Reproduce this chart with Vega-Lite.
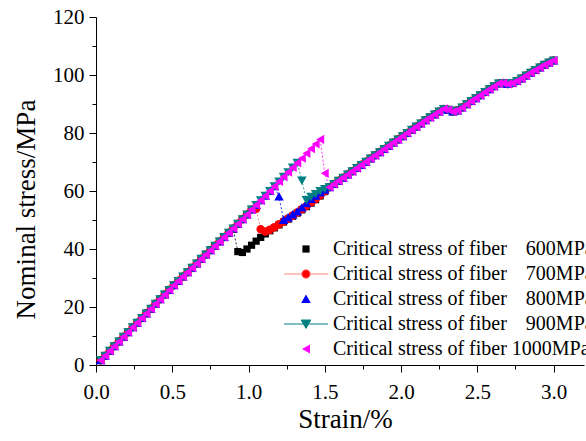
{
  "$schema": "https://vega.github.io/schema/vega-lite/v6.json",
  "width": 488,
  "height": 348,
  "autosize": {"type": "none"},
  "padding": {"left": 96, "top": 17, "right": 2, "bottom": 76},
  "background": "white",
  "config": {
    "view": {"stroke": null},
    "font": "Times New Roman, Liberation Serif, serif",
    "style": {
      "guide-label": {"font": "Times New Roman, Liberation Serif, serif", "fill": "black"},
      "guide-title": {"font": "Times New Roman, Liberation Serif, serif", "fill": "black"}
    },
    "axis": {
      "domainColor": "black", "domainWidth": 1, "tickColor": "black", "tickWidth": 1,
      "labelColor": "black", "labelFontSize": 21,
      "titleFontSize": 27, "titleFontWeight": "normal", "titleColor": "black",
      "grid": false, "labelFlush": false, "labelOverlap": false, "labelBound": false
    },
    "legend": {
      "orient": "none", "legendX": 200, "legendY": 222, "padding": 0,
      "labelFont": "Times New Roman, Liberation Serif, serif", "labelFontSize": 20, "labelColor": "black",
      "labelOffset": 17, "labelLimit": 0, "rowPadding": 5, "symbolSize": 64, "symbolStrokeWidth": 1
    }
  },
  "data": {"values": [
    {"s":600,"x":0.03,"y":1.6},{"s":600,"x":0.06,"y":3.2},{"s":600,"x":0.09,"y":4.9},{"s":600,"x":0.12,"y":6.5},{"s":600,"x":0.15,"y":8.1},{"s":600,"x":0.18,"y":9.7},{"s":600,"x":0.21,"y":11.3},{"s":600,"x":0.24,"y":13.0},{"s":600,"x":0.27,"y":14.6},{"s":600,"x":0.30,"y":16.2},{"s":600,"x":0.33,"y":17.8},{"s":600,"x":0.36,"y":19.4},{"s":600,"x":0.39,"y":21.1},{"s":600,"x":0.42,"y":22.7},{"s":600,"x":0.45,"y":24.3},{"s":600,"x":0.48,"y":25.9},{"s":600,"x":0.51,"y":27.5},{"s":600,"x":0.54,"y":29.0},{"s":600,"x":0.57,"y":30.5},{"s":600,"x":0.60,"y":32.0},{"s":600,"x":0.63,"y":33.5},{"s":600,"x":0.66,"y":35.0},{"s":600,"x":0.69,"y":36.6},{"s":600,"x":0.72,"y":38.1},{"s":600,"x":0.75,"y":39.6},{"s":600,"x":0.78,"y":41.1},{"s":600,"x":0.81,"y":42.6},{"s":600,"x":0.84,"y":44.1},{"s":600,"x":0.87,"y":45.6},
    {"s":600,"x":0.90,"y":46.8},{"s":600,"x":0.93,"y":39.1},{"s":600,"x":0.96,"y":38.8},{"s":600,"x":0.99,"y":40.0},{"s":600,"x":1.02,"y":41.3},{"s":600,"x":1.05,"y":42.7},{"s":600,"x":1.08,"y":44.0},{"s":600,"x":1.11,"y":45.2},{"s":600,"x":1.14,"y":46.3},{"s":600,"x":1.17,"y":47.3},{"s":600,"x":1.20,"y":48.3},{"s":600,"x":1.23,"y":49.3},{"s":600,"x":1.26,"y":50.3},{"s":600,"x":1.29,"y":51.3},{"s":600,"x":1.32,"y":52.4},{"s":600,"x":1.35,"y":53.5},{"s":600,"x":1.38,"y":54.6},{"s":600,"x":1.41,"y":55.8},{"s":600,"x":1.44,"y":57.0},{"s":600,"x":1.47,"y":58.3},{"s":600,"x":1.50,"y":59.8},{"s":600,"x":1.53,"y":61.3},
    {"s":600,"x":1.56,"y":62.4},{"s":600,"x":1.59,"y":63.5},{"s":600,"x":1.62,"y":64.6},{"s":600,"x":1.65,"y":65.7},{"s":600,"x":1.68,"y":66.8},{"s":600,"x":1.71,"y":67.9},{"s":600,"x":1.74,"y":69.0},{"s":600,"x":1.77,"y":70.1},{"s":600,"x":1.80,"y":71.2},{"s":600,"x":1.83,"y":72.3},{"s":600,"x":1.86,"y":73.4},{"s":600,"x":1.89,"y":74.5},{"s":600,"x":1.92,"y":75.6},{"s":600,"x":1.95,"y":76.7},{"s":600,"x":1.98,"y":77.8},{"s":600,"x":2.01,"y":78.9},{"s":600,"x":2.04,"y":80.0},{"s":600,"x":2.07,"y":81.1},{"s":600,"x":2.10,"y":82.2},{"s":600,"x":2.13,"y":83.3},{"s":600,"x":2.16,"y":84.4},{"s":600,"x":2.19,"y":85.4},{"s":600,"x":2.22,"y":86.4},{"s":600,"x":2.25,"y":87.4},{"s":600,"x":2.28,"y":88.3},{"s":600,"x":2.31,"y":88.0},{"s":600,"x":2.34,"y":87.4},{"s":600,"x":2.37,"y":87.8},{"s":600,"x":2.40,"y":88.8},{"s":600,"x":2.43,"y":89.9},{"s":600,"x":2.46,"y":91.0},{"s":600,"x":2.49,"y":92.0},{"s":600,"x":2.52,"y":93.0},{"s":600,"x":2.55,"y":94.1},{"s":600,"x":2.58,"y":95.1},{"s":600,"x":2.61,"y":96.1},{"s":600,"x":2.64,"y":97.1},{"s":600,"x":2.67,"y":97.2},{"s":600,"x":2.70,"y":96.9},{"s":600,"x":2.73,"y":97.2},{"s":600,"x":2.76,"y":97.9},{"s":600,"x":2.79,"y":98.8},{"s":600,"x":2.82,"y":99.8},{"s":600,"x":2.85,"y":100.8},{"s":600,"x":2.88,"y":101.7},{"s":600,"x":2.91,"y":102.6},{"s":600,"x":2.94,"y":103.5},{"s":600,"x":2.97,"y":104.3},{"s":600,"x":3.00,"y":105.0},

    {"s":700,"x":0.03,"y":1.6},{"s":700,"x":0.06,"y":3.2},{"s":700,"x":0.09,"y":4.9},{"s":700,"x":0.12,"y":6.5},{"s":700,"x":0.15,"y":8.1},{"s":700,"x":0.18,"y":9.7},{"s":700,"x":0.21,"y":11.3},{"s":700,"x":0.24,"y":13.0},{"s":700,"x":0.27,"y":14.6},{"s":700,"x":0.30,"y":16.2},{"s":700,"x":0.33,"y":17.8},{"s":700,"x":0.36,"y":19.4},{"s":700,"x":0.39,"y":21.1},{"s":700,"x":0.42,"y":22.7},{"s":700,"x":0.45,"y":24.3},{"s":700,"x":0.48,"y":25.9},{"s":700,"x":0.51,"y":27.5},{"s":700,"x":0.54,"y":29.0},{"s":700,"x":0.57,"y":30.5},{"s":700,"x":0.60,"y":32.0},{"s":700,"x":0.63,"y":33.5},{"s":700,"x":0.66,"y":35.0},{"s":700,"x":0.69,"y":36.6},{"s":700,"x":0.72,"y":38.1},{"s":700,"x":0.75,"y":39.6},{"s":700,"x":0.78,"y":41.1},{"s":700,"x":0.81,"y":42.6},{"s":700,"x":0.84,"y":44.1},{"s":700,"x":0.87,"y":45.6},{"s":700,"x":0.90,"y":47.1},{"s":700,"x":0.93,"y":48.7},{"s":700,"x":0.96,"y":50.3},{"s":700,"x":0.99,"y":51.9},{"s":700,"x":1.02,"y":53.6},
    {"s":700,"x":1.05,"y":53.9},{"s":700,"x":1.08,"y":46.8},{"s":700,"x":1.11,"y":46.0},{"s":700,"x":1.14,"y":46.6},{"s":700,"x":1.17,"y":47.5},{"s":700,"x":1.20,"y":48.5},{"s":700,"x":1.23,"y":49.5},{"s":700,"x":1.26,"y":50.5},{"s":700,"x":1.29,"y":51.5},{"s":700,"x":1.32,"y":52.6},{"s":700,"x":1.35,"y":53.7},{"s":700,"x":1.38,"y":54.8},{"s":700,"x":1.41,"y":56.0},{"s":700,"x":1.44,"y":57.2},{"s":700,"x":1.47,"y":58.5},{"s":700,"x":1.50,"y":59.9},{"s":700,"x":1.53,"y":61.3},
    {"s":700,"x":1.56,"y":62.4},{"s":700,"x":1.59,"y":63.5},{"s":700,"x":1.62,"y":64.6},{"s":700,"x":1.65,"y":65.7},{"s":700,"x":1.68,"y":66.8},{"s":700,"x":1.71,"y":67.9},{"s":700,"x":1.74,"y":69.0},{"s":700,"x":1.77,"y":70.1},{"s":700,"x":1.80,"y":71.2},{"s":700,"x":1.83,"y":72.3},{"s":700,"x":1.86,"y":73.4},{"s":700,"x":1.89,"y":74.5},{"s":700,"x":1.92,"y":75.6},{"s":700,"x":1.95,"y":76.7},{"s":700,"x":1.98,"y":77.8},{"s":700,"x":2.01,"y":78.9},{"s":700,"x":2.04,"y":80.0},{"s":700,"x":2.07,"y":81.1},{"s":700,"x":2.10,"y":82.2},{"s":700,"x":2.13,"y":83.3},{"s":700,"x":2.16,"y":84.4},{"s":700,"x":2.19,"y":85.4},{"s":700,"x":2.22,"y":86.4},{"s":700,"x":2.25,"y":87.4},{"s":700,"x":2.28,"y":88.3},{"s":700,"x":2.31,"y":88.0},{"s":700,"x":2.34,"y":87.4},{"s":700,"x":2.37,"y":87.8},{"s":700,"x":2.40,"y":88.8},{"s":700,"x":2.43,"y":89.9},{"s":700,"x":2.46,"y":91.0},{"s":700,"x":2.49,"y":92.0},{"s":700,"x":2.52,"y":93.0},{"s":700,"x":2.55,"y":94.1},{"s":700,"x":2.58,"y":95.1},{"s":700,"x":2.61,"y":96.1},{"s":700,"x":2.64,"y":97.1},{"s":700,"x":2.67,"y":97.2},{"s":700,"x":2.70,"y":96.9},{"s":700,"x":2.73,"y":97.2},{"s":700,"x":2.76,"y":97.9},{"s":700,"x":2.79,"y":98.8},{"s":700,"x":2.82,"y":99.8},{"s":700,"x":2.85,"y":100.8},{"s":700,"x":2.88,"y":101.7},{"s":700,"x":2.91,"y":102.6},{"s":700,"x":2.94,"y":103.5},{"s":700,"x":2.97,"y":104.3},{"s":700,"x":3.00,"y":105.0},

    {"s":800,"x":0.03,"y":1.6},{"s":800,"x":0.06,"y":3.2},{"s":800,"x":0.09,"y":4.9},{"s":800,"x":0.12,"y":6.5},{"s":800,"x":0.15,"y":8.1},{"s":800,"x":0.18,"y":9.7},{"s":800,"x":0.21,"y":11.3},{"s":800,"x":0.24,"y":13.0},{"s":800,"x":0.27,"y":14.6},{"s":800,"x":0.30,"y":16.2},{"s":800,"x":0.33,"y":17.8},{"s":800,"x":0.36,"y":19.4},{"s":800,"x":0.39,"y":21.1},{"s":800,"x":0.42,"y":22.7},{"s":800,"x":0.45,"y":24.3},{"s":800,"x":0.48,"y":25.9},{"s":800,"x":0.51,"y":27.5},{"s":800,"x":0.54,"y":29.0},{"s":800,"x":0.57,"y":30.5},{"s":800,"x":0.60,"y":32.0},{"s":800,"x":0.63,"y":33.5},{"s":800,"x":0.66,"y":35.0},{"s":800,"x":0.69,"y":36.6},{"s":800,"x":0.72,"y":38.1},{"s":800,"x":0.75,"y":39.6},{"s":800,"x":0.78,"y":41.1},{"s":800,"x":0.81,"y":42.6},{"s":800,"x":0.84,"y":44.1},{"s":800,"x":0.87,"y":45.6},{"s":800,"x":0.90,"y":47.1},{"s":800,"x":0.93,"y":48.7},{"s":800,"x":0.96,"y":50.3},{"s":800,"x":0.99,"y":51.9},{"s":800,"x":1.02,"y":53.6},{"s":800,"x":1.05,"y":55.2},{"s":800,"x":1.08,"y":56.8},{"s":800,"x":1.11,"y":58.4},{"s":800,"x":1.14,"y":60.0},{"s":800,"x":1.17,"y":61.6},
    {"s":800,"x":1.20,"y":58.1},{"s":800,"x":1.23,"y":50.0},{"s":800,"x":1.26,"y":50.9},{"s":800,"x":1.29,"y":51.9},{"s":800,"x":1.32,"y":52.9},{"s":800,"x":1.35,"y":54.3},{"s":800,"x":1.38,"y":55.8},{"s":800,"x":1.41,"y":57.2},{"s":800,"x":1.44,"y":58.4},{"s":800,"x":1.47,"y":59.5},{"s":800,"x":1.50,"y":60.4},{"s":800,"x":1.53,"y":61.3},
    {"s":800,"x":1.56,"y":62.4},{"s":800,"x":1.59,"y":63.5},{"s":800,"x":1.62,"y":64.6},{"s":800,"x":1.65,"y":65.7},{"s":800,"x":1.68,"y":66.8},{"s":800,"x":1.71,"y":67.9},{"s":800,"x":1.74,"y":69.0},{"s":800,"x":1.77,"y":70.1},{"s":800,"x":1.80,"y":71.2},{"s":800,"x":1.83,"y":72.3},{"s":800,"x":1.86,"y":73.4},{"s":800,"x":1.89,"y":74.5},{"s":800,"x":1.92,"y":75.6},{"s":800,"x":1.95,"y":76.7},{"s":800,"x":1.98,"y":77.8},{"s":800,"x":2.01,"y":78.9},{"s":800,"x":2.04,"y":80.0},{"s":800,"x":2.07,"y":81.1},{"s":800,"x":2.10,"y":82.2},{"s":800,"x":2.13,"y":83.3},{"s":800,"x":2.16,"y":84.4},{"s":800,"x":2.19,"y":85.4},{"s":800,"x":2.22,"y":86.4},{"s":800,"x":2.25,"y":87.4},{"s":800,"x":2.28,"y":88.3},{"s":800,"x":2.31,"y":88.0},{"s":800,"x":2.34,"y":87.4},{"s":800,"x":2.37,"y":87.8},{"s":800,"x":2.40,"y":88.8},{"s":800,"x":2.43,"y":89.9},{"s":800,"x":2.46,"y":91.0},{"s":800,"x":2.49,"y":92.0},{"s":800,"x":2.52,"y":93.0},{"s":800,"x":2.55,"y":94.1},{"s":800,"x":2.58,"y":95.1},{"s":800,"x":2.61,"y":96.1},{"s":800,"x":2.64,"y":97.1},{"s":800,"x":2.67,"y":97.2},{"s":800,"x":2.70,"y":96.9},{"s":800,"x":2.73,"y":97.2},{"s":800,"x":2.76,"y":97.9},{"s":800,"x":2.79,"y":98.8},{"s":800,"x":2.82,"y":99.8},{"s":800,"x":2.85,"y":100.8},{"s":800,"x":2.88,"y":101.7},{"s":800,"x":2.91,"y":102.6},{"s":800,"x":2.94,"y":103.5},{"s":800,"x":2.97,"y":104.3},{"s":800,"x":3.00,"y":105.0},

    {"s":900,"x":0.03,"y":1.6},{"s":900,"x":0.06,"y":3.2},{"s":900,"x":0.09,"y":4.9},{"s":900,"x":0.12,"y":6.5},{"s":900,"x":0.15,"y":8.1},{"s":900,"x":0.18,"y":9.7},{"s":900,"x":0.21,"y":11.3},{"s":900,"x":0.24,"y":13.0},{"s":900,"x":0.27,"y":14.6},{"s":900,"x":0.30,"y":16.2},{"s":900,"x":0.33,"y":17.8},{"s":900,"x":0.36,"y":19.4},{"s":900,"x":0.39,"y":21.1},{"s":900,"x":0.42,"y":22.7},{"s":900,"x":0.45,"y":24.3},{"s":900,"x":0.48,"y":25.9},{"s":900,"x":0.51,"y":27.5},{"s":900,"x":0.54,"y":29.0},{"s":900,"x":0.57,"y":30.5},{"s":900,"x":0.60,"y":32.0},{"s":900,"x":0.63,"y":33.5},{"s":900,"x":0.66,"y":35.0},{"s":900,"x":0.69,"y":36.6},{"s":900,"x":0.72,"y":38.1},{"s":900,"x":0.75,"y":39.6},{"s":900,"x":0.78,"y":41.1},{"s":900,"x":0.81,"y":42.6},{"s":900,"x":0.84,"y":44.1},{"s":900,"x":0.87,"y":45.6},{"s":900,"x":0.90,"y":47.1},{"s":900,"x":0.93,"y":48.7},{"s":900,"x":0.96,"y":50.3},{"s":900,"x":0.99,"y":51.9},{"s":900,"x":1.02,"y":53.6},{"s":900,"x":1.05,"y":55.2},{"s":900,"x":1.08,"y":56.8},{"s":900,"x":1.11,"y":58.4},{"s":900,"x":1.14,"y":60.0},{"s":900,"x":1.17,"y":61.6},{"s":900,"x":1.20,"y":63.3},{"s":900,"x":1.23,"y":64.9},{"s":900,"x":1.26,"y":66.5},{"s":900,"x":1.29,"y":68.1},{"s":900,"x":1.32,"y":69.7},
    {"s":900,"x":1.35,"y":63.6},{"s":900,"x":1.38,"y":56.9},{"s":900,"x":1.41,"y":58.0},{"s":900,"x":1.44,"y":59.0},{"s":900,"x":1.47,"y":60.0},{"s":900,"x":1.50,"y":60.7},{"s":900,"x":1.53,"y":61.3},
    {"s":900,"x":1.56,"y":62.4},{"s":900,"x":1.59,"y":63.5},{"s":900,"x":1.62,"y":64.6},{"s":900,"x":1.65,"y":65.7},{"s":900,"x":1.68,"y":66.8},{"s":900,"x":1.71,"y":67.9},{"s":900,"x":1.74,"y":69.0},{"s":900,"x":1.77,"y":70.1},{"s":900,"x":1.80,"y":71.2},{"s":900,"x":1.83,"y":72.3},{"s":900,"x":1.86,"y":73.4},{"s":900,"x":1.89,"y":74.5},{"s":900,"x":1.92,"y":75.6},{"s":900,"x":1.95,"y":76.7},{"s":900,"x":1.98,"y":77.8},{"s":900,"x":2.01,"y":78.9},{"s":900,"x":2.04,"y":80.0},{"s":900,"x":2.07,"y":81.1},{"s":900,"x":2.10,"y":82.2},{"s":900,"x":2.13,"y":83.3},{"s":900,"x":2.16,"y":84.4},{"s":900,"x":2.19,"y":85.4},{"s":900,"x":2.22,"y":86.4},{"s":900,"x":2.25,"y":87.4},{"s":900,"x":2.28,"y":88.3},{"s":900,"x":2.31,"y":88.0},{"s":900,"x":2.34,"y":87.4},{"s":900,"x":2.37,"y":87.8},{"s":900,"x":2.40,"y":88.8},{"s":900,"x":2.43,"y":89.9},{"s":900,"x":2.46,"y":91.0},{"s":900,"x":2.49,"y":92.0},{"s":900,"x":2.52,"y":93.0},{"s":900,"x":2.55,"y":94.1},{"s":900,"x":2.58,"y":95.1},{"s":900,"x":2.61,"y":96.1},{"s":900,"x":2.64,"y":97.1},{"s":900,"x":2.67,"y":97.2},{"s":900,"x":2.70,"y":96.9},{"s":900,"x":2.73,"y":97.2},{"s":900,"x":2.76,"y":97.9},{"s":900,"x":2.79,"y":98.8},{"s":900,"x":2.82,"y":99.8},{"s":900,"x":2.85,"y":100.8},{"s":900,"x":2.88,"y":101.7},{"s":900,"x":2.91,"y":102.6},{"s":900,"x":2.94,"y":103.5},{"s":900,"x":2.97,"y":104.3},{"s":900,"x":3.00,"y":105.0},

    {"s":1000,"x":0.03,"y":1.6},{"s":1000,"x":0.06,"y":3.2},{"s":1000,"x":0.09,"y":4.9},{"s":1000,"x":0.12,"y":6.5},{"s":1000,"x":0.15,"y":8.1},{"s":1000,"x":0.18,"y":9.7},{"s":1000,"x":0.21,"y":11.3},{"s":1000,"x":0.24,"y":13.0},{"s":1000,"x":0.27,"y":14.6},{"s":1000,"x":0.30,"y":16.2},{"s":1000,"x":0.33,"y":17.8},{"s":1000,"x":0.36,"y":19.4},{"s":1000,"x":0.39,"y":21.1},{"s":1000,"x":0.42,"y":22.7},{"s":1000,"x":0.45,"y":24.3},{"s":1000,"x":0.48,"y":25.9},{"s":1000,"x":0.51,"y":27.5},{"s":1000,"x":0.54,"y":29.0},{"s":1000,"x":0.57,"y":30.5},{"s":1000,"x":0.60,"y":32.0},{"s":1000,"x":0.63,"y":33.5},{"s":1000,"x":0.66,"y":35.0},{"s":1000,"x":0.69,"y":36.6},{"s":1000,"x":0.72,"y":38.1},{"s":1000,"x":0.75,"y":39.6},{"s":1000,"x":0.78,"y":41.1},{"s":1000,"x":0.81,"y":42.6},{"s":1000,"x":0.84,"y":44.1},{"s":1000,"x":0.87,"y":45.6},{"s":1000,"x":0.90,"y":47.1},{"s":1000,"x":0.93,"y":48.7},{"s":1000,"x":0.96,"y":50.3},{"s":1000,"x":0.99,"y":51.9},{"s":1000,"x":1.02,"y":53.6},{"s":1000,"x":1.05,"y":55.2},{"s":1000,"x":1.08,"y":56.8},{"s":1000,"x":1.11,"y":58.4},{"s":1000,"x":1.14,"y":60.0},{"s":1000,"x":1.17,"y":61.6},{"s":1000,"x":1.20,"y":63.3},{"s":1000,"x":1.23,"y":64.9},{"s":1000,"x":1.26,"y":66.5},{"s":1000,"x":1.29,"y":68.1},{"s":1000,"x":1.32,"y":69.7},{"s":1000,"x":1.35,"y":71.3},{"s":1000,"x":1.38,"y":73.0},{"s":1000,"x":1.41,"y":74.6},{"s":1000,"x":1.44,"y":76.2},{"s":1000,"x":1.47,"y":77.8},
    {"s":1000,"x":1.50,"y":66.1},{"s":1000,"x":1.53,"y":61.3},
    {"s":1000,"x":1.56,"y":62.4},{"s":1000,"x":1.59,"y":63.5},{"s":1000,"x":1.62,"y":64.6},{"s":1000,"x":1.65,"y":65.7},{"s":1000,"x":1.68,"y":66.8},{"s":1000,"x":1.71,"y":67.9},{"s":1000,"x":1.74,"y":69.0},{"s":1000,"x":1.77,"y":70.1},{"s":1000,"x":1.80,"y":71.2},{"s":1000,"x":1.83,"y":72.3},{"s":1000,"x":1.86,"y":73.4},{"s":1000,"x":1.89,"y":74.5},{"s":1000,"x":1.92,"y":75.6},{"s":1000,"x":1.95,"y":76.7},{"s":1000,"x":1.98,"y":77.8},{"s":1000,"x":2.01,"y":78.9},{"s":1000,"x":2.04,"y":80.0},{"s":1000,"x":2.07,"y":81.1},{"s":1000,"x":2.10,"y":82.2},{"s":1000,"x":2.13,"y":83.3},{"s":1000,"x":2.16,"y":84.4},{"s":1000,"x":2.19,"y":85.4},{"s":1000,"x":2.22,"y":86.4},{"s":1000,"x":2.25,"y":87.4},{"s":1000,"x":2.28,"y":88.3},{"s":1000,"x":2.31,"y":88.0},{"s":1000,"x":2.34,"y":87.4},{"s":1000,"x":2.37,"y":87.8},{"s":1000,"x":2.40,"y":88.8},{"s":1000,"x":2.43,"y":89.9},{"s":1000,"x":2.46,"y":91.0},{"s":1000,"x":2.49,"y":92.0},{"s":1000,"x":2.52,"y":93.0},{"s":1000,"x":2.55,"y":94.1},{"s":1000,"x":2.58,"y":95.1},{"s":1000,"x":2.61,"y":96.1},{"s":1000,"x":2.64,"y":97.1},{"s":1000,"x":2.67,"y":97.2},{"s":1000,"x":2.70,"y":96.9},{"s":1000,"x":2.73,"y":97.2},{"s":1000,"x":2.76,"y":97.9},{"s":1000,"x":2.79,"y":98.8},{"s":1000,"x":2.82,"y":99.8},{"s":1000,"x":2.85,"y":100.8},{"s":1000,"x":2.88,"y":101.7},{"s":1000,"x":2.91,"y":102.6},{"s":1000,"x":2.94,"y":103.5},{"s":1000,"x":2.97,"y":104.3},{"s":1000,"x":3.00,"y":105.0}
  ]},
  "encoding": {
    "x": {
      "field": "x", "type": "quantitative",
      "scale": {"domain": [0, 3.2], "nice": false, "zero": false},
      "axis": {
        "title": "Strain/%",
        "labelFont": "Times New Roman, Liberation Serif, serif",
        "titleFont": "Times New Roman, Liberation Serif, serif",
        "values": [0, 0.25, 0.5, 0.75, 1, 1.25, 1.5, 1.75, 2, 2.25, 2.5, 2.75, 3],
        "format": ".1f",
        "labelExpr": "datum.value % 0.5 == 0 ? datum.label : ''",
        "tickSize": {"condition": {"test": "datum.value % 0.5 == 0", "value": 7}, "value": 4},
        "labelPadding": 9,
        "titleX": 249, "titleY": 62, "titleBaseline": "alphabetic"
      }
    },
    "y": {
      "field": "y", "type": "quantitative",
      "scale": {"domain": [0, 120], "nice": false},
      "axis": {
        "title": "Nominal stress/MPa",
        "labelFont": "Times New Roman, Liberation Serif, serif",
        "titleFont": "Times New Roman, Liberation Serif, serif",
        "values": [0, 10, 20, 30, 40, 50, 60, 70, 80, 90, 100, 110, 120],
        "labelExpr": "datum.value % 20 == 0 ? datum.label : ''",
        "tickSize": {"condition": {"test": "datum.value % 20 == 0", "value": 7}, "value": 4},
        "labelPadding": 5,
        "titleAngle": 270, "titleX": -62, "titleY": 192, "titleBaseline": "alphabetic", "titleAlign": "center"
      }
    }
  },
  "layer": [
    {
      "mark": {"type": "line", "strokeWidth": 1, "strokeDash": [2, 2], "opacity": 0.8},
      "encoding": {
        "detail": {"field": "s", "type": "nominal"},
        "stroke": {
          "condition": [
            {"test": "datum.s == 600", "value": "#000000"},
            {"test": "datum.s == 700", "value": "#ff6666"},
            {"test": "datum.s == 800", "value": "#0000ff"},
            {"test": "datum.s == 900", "value": "#008080"}
          ],
          "value": "#ff00ff"
        }
      }
    },
    {
      "mark": {"type": "point", "filled": true, "opacity": 1, "size": 64},
      "encoding": {
        "color": {
          "field": "s", "type": "nominal",
          "scale": {"domain": [600, 700, 800, 900, 1000], "range": ["#000000", "#ff0000", "#0000ff", "#008080", "#ff00ff"]},
          "legend": {
            "title": null,
            "labelExpr": "'Critical stress of fiber ' + (datum.value == 1000 ? '' : '\u00a0\u00a0\u2009') + datum.value + 'MPa'"
          }
        },
        "shape": {
          "field": "s", "type": "nominal",
          "scale": {
            "domain": [600, 700, 800, 900, 1000],
            "range": [
              "M-0.9,-0.9H0.9V0.9H-0.9Z",
              "M-5.5,0H-1.2M1.2,0H5.5M1.07,0A1.07,1.07,0,1,1,-1.07,0A1.07,1.07,0,1,1,1.07,0Z",
              "M0,-1.1L1.2,1.0L-1.2,1.0Z",
              "M-5.5,0H5.5M-1.2,-1.0L1.2,-1.0L0,1.1Z",
              "M-1.0,0L1.0,-1.15L1.0,1.15Z"
            ]
          },
          "legend": {
            "title": null,
            "labelExpr": "'Critical stress of fiber ' + (datum.value == 1000 ? '' : '\u00a0\u00a0\u2009') + datum.value + 'MPa'"
          }
        },
        "stroke": {
          "field": "s", "type": "nominal",
          "scale": {"domain": [600, 700, 800, 900, 1000], "range": ["transparent", "#ff8080", "transparent", "#008080", "transparent"]},
          "legend": {
            "title": null,
            "labelExpr": "'Critical stress of fiber ' + (datum.value == 1000 ? '' : '\u00a0\u00a0\u2009') + datum.value + 'MPa'"
          }
        },
        "strokeWidth": {"value": 0}
      }
    }
  ]
}
